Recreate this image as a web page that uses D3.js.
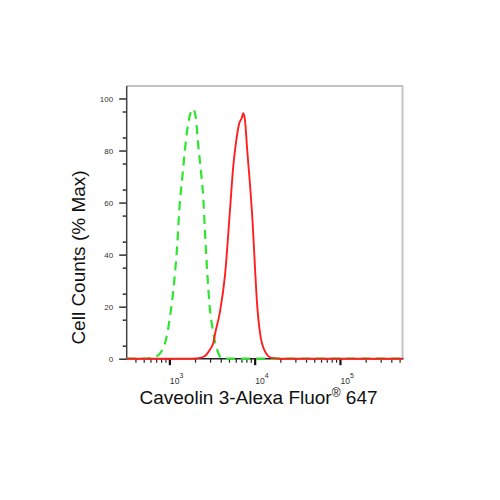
<!DOCTYPE html>
<html>
<head>
<meta charset="utf-8">
<script src="https://cdn.jsdelivr.net/npm/d3@7"></script>
<style>
  body { margin: 0; background: #fff; }
  svg { display: block; font-family: "Liberation Sans", Arial, sans-serif; }
</style>
</head>
<body>
<div id="chart"></div>
<script>
// values: fluorescence intensity (log axis) vs % of max
const greenX = [316, 518, 593, 710, 888, 1016, 1141, 1238, 1306, 1431, 1553, 1666, 1825, 1905, 2032, 2181, 2345, 2494, 2612, 2759, 2952, 3271, 3764, 4198, 541000];
const greenY = [0, 0, 0.2, 0.9, 6, 16, 30, 44, 57, 71, 83, 90.5, 95.5, 96, 93, 82, 72, 62, 49, 35, 21, 10, 2, 0, 0];

const redX = [316, 1745, 1995, 2285, 2612, 2992, 3271, 3428, 3918, 4487, 5133, 5612, 6037, 6597, 7042, 7351, 7697, 8185, 8812, 9475, 10085, 10726, 11535, 13210, 15817, 19808, 541000];
const redY = [0, 0, 0.1, 0.3, 1, 3.5, 6, 9.5, 18, 32, 57, 74, 83, 90.5, 92.4, 94.3, 91.7, 80, 67, 52, 35, 20, 10, 2.8, 0.3, 0, 0];

const xMajor = [1e3, 1e4, 1e5];
const xMajorExp = ["3", "4", "5"];
const yMajor = [0, 20, 40, 60, 80, 100];

const xLabel = "Caveolin 3-Alexa Fluor";
const yLabel = "Cell Counts (% Max)";

const LEFT = 126.7, RIGHT = 402.5, TOP = 86, BOTTOM = 358.7;

const svg = d3.select("#chart")
  .append("svg")
  .attr("width", 500)
  .attr("height", 500);

const x = d3.scaleLog().domain([316, 541000]).range([LEFT, RIGHT]);
const y = d3.scaleLinear().domain([0, 104.8]).range([BOTTOM, TOP]);

// minor ticks 2..9 of each decade that fall inside the domain
const xMinor = [];
[100, 1000, 10000, 100000].forEach(function(d) {
  for (let k = 2; k <= 9; k++) {
    const v = d * k;
    if (v > x.domain()[0] && v < x.domain()[1]) xMinor.push(v);
  }
});
const yMinor = d3.range(5, 105, 10);

// frame: gray top and right
svg.append("line")
  .attr("x1", LEFT).attr("x2", RIGHT).attr("y1", TOP).attr("y2", TOP)
  .attr("stroke", "#c4c4c4").attr("stroke-width", 2);
svg.append("line")
  .attr("x1", RIGHT).attr("x2", RIGHT).attr("y1", TOP - 1).attr("y2", BOTTOM)
  .attr("stroke", "#c4c4c4").attr("stroke-width", 2);

// y axis
const yMinorG = svg.append("g")
  .attr("transform", "translate(" + LEFT + ",0)")
  .call(d3.axisLeft(y).tickValues(yMinor).tickSize(4).tickFormat(""));
const yMajorG = svg.append("g")
  .attr("transform", "translate(" + LEFT + ",0)")
  .call(d3.axisLeft(y).tickValues(yMajor).tickSize(7.5).tickPadding(6));
[yMinorG, yMajorG].forEach(function(g) {
  g.select(".domain").remove();
  g.selectAll("line").attr("stroke", "#222").attr("stroke-width", 1.4);
});
yMajorG.selectAll("text")
  .attr("font-size", 8)
  .attr("fill", "#333")
  .attr("font-family", "Liberation Sans, Arial, sans-serif");
svg.append("line")
  .attr("x1", LEFT).attr("x2", LEFT).attr("y1", TOP).attr("y2", BOTTOM + 1)
  .attr("stroke", "#444").attr("stroke-width", 1.5);

// x axis
const xMinorG = svg.append("g")
  .attr("transform", "translate(0," + BOTTOM + ")")
  .call(d3.axisBottom(x).tickValues(xMinor).tickSize(4).tickFormat(""));
const xMajorG = svg.append("g")
  .attr("transform", "translate(0," + BOTTOM + ")")
  .call(d3.axisBottom(x).tickValues(xMajor).tickSize(6.5).tickFormat(""));
[xMinorG, xMajorG].forEach(function(g) {
  g.select(".domain").remove();
});
xMinorG.selectAll("line").attr("stroke", "#222").attr("stroke-width", 1.2);
xMajorG.selectAll("line").attr("stroke", "#111").attr("stroke-width", 2.2);

const xTickText = svg.selectAll(".xtl")
  .data(xMajor)
  .enter()
  .append("text")
  .attr("class", "xtl")
  .attr("x", function(d) { return x(d) + 0.5; })
  .attr("y", 383.5)
  .attr("font-size", 8.6)
  .attr("fill", "#333");
xTickText.append("tspan").text("10");
xTickText.append("tspan")
  .attr("dy", -5.5)
  .attr("font-size", 7)
  .text(function(d, i) { return xMajorExp[i]; });

svg.append("line")
  .attr("x1", LEFT).attr("x2", RIGHT + 1).attr("y1", BOTTOM).attr("y2", BOTTOM)
  .attr("stroke", "#222").attr("stroke-width", 1.6);

// curves
const line = d3.line()
  .x(function(d) { return x(d[0]); })
  .y(function(d) { return y(d[1]); })
  .curve(d3.curveMonotoneX);

svg.append("path")
  .datum(d3.zip(greenX, greenY))
  .attr("d", line)
  .attr("fill", "none")
  .attr("stroke", "#2fe62f")
  .attr("stroke-width", 2.2)
  .attr("stroke-dasharray", "9,6");

svg.append("path")
  .datum(d3.zip(redX, redY))
  .attr("d", line)
  .attr("fill", "none")
  .attr("stroke", "#ff1f1f")
  .attr("stroke-width", 1.9);

// axis titles
const xt = svg.append("text")
  .attr("x", 258.5)
  .attr("y", 404)
  .attr("text-anchor", "middle")
  .attr("font-size", 19)
  .attr("fill", "#111");
xt.append("tspan").text(xLabel);
xt.append("tspan").attr("dy", -7).attr("font-size", 12).text("®");
xt.append("tspan").attr("dy", 7).text(" 647");

svg.append("text")
  .attr("transform", "translate(85,257.5) rotate(-90)")
  .attr("text-anchor", "middle")
  .attr("font-size", 19)
  .attr("fill", "#111")
  .text(yLabel);
</script>
</body>
</html>
